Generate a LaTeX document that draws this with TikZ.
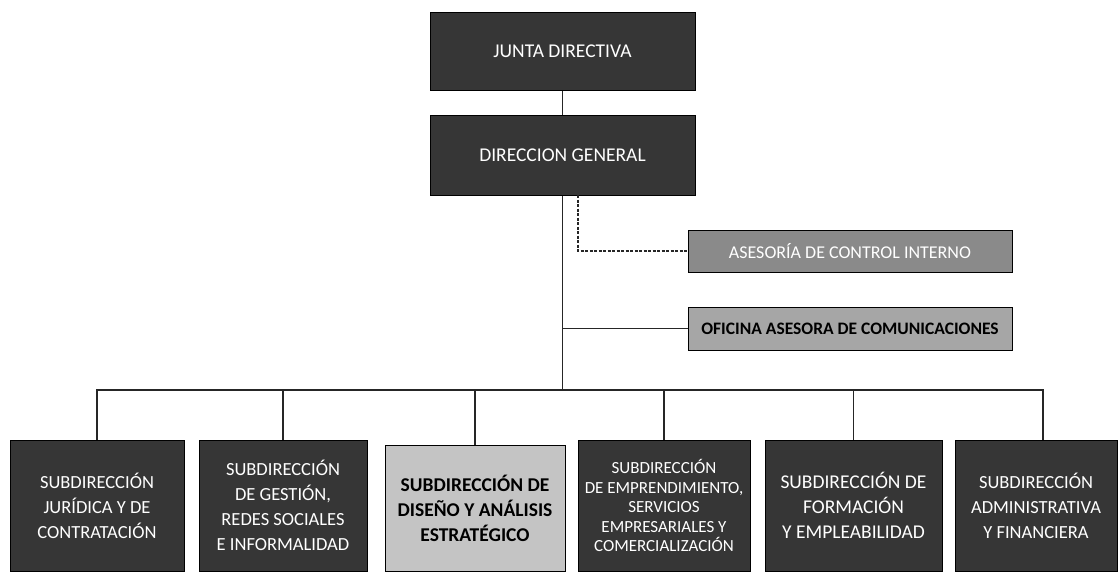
\documentclass[tikz,border=0pt]{standalone}
\usepackage{fontspec}
\setmainfont{Carlito}
\definecolor{darkbox}{HTML}{363636}
\definecolor{midbox}{HTML}{8A8A8A}
\definecolor{litebox}{HTML}{A6A6A6}
\definecolor{palebox}{HTML}{C4C4C4}
\begin{document}
\begin{tikzpicture}[x=1pt,y=-1pt,
  box/.style={draw=black,line width=1pt,inner sep=2pt,align=center,
    font=\fontsize{18.5}{25}\selectfont},
  darkb/.style={box,fill=darkbox,text=white},
  link/.style={draw=black!85,line width=1.1pt},
  staff/.style={link,dashed,dash pattern=on 3pt off 1.5pt}]
\useasboundingbox (0,0) rectangle (1119,571);
\node[darkb,font=\fontsize{19.5}{25}\selectfont,minimum width=265pt,minimum height=78pt] (JD) at (562.5,51) {JUNTA DIRECTIVA};
\node[darkb,font=\fontsize{19.5}{25}\selectfont,minimum width=265pt,minimum height=80pt] (DG) at (562.5,155) {DIRECCION GENERAL};
\node[box,fill=midbox,text=white,font=\fontsize{18}{25}\selectfont,minimum width=324pt,minimum height=42pt] (ACI) at (850,251) {ASESORÍA DE CONTROL INTERNO};
\node[box,fill=litebox,text=black,font=\fontsize{17.5}{25}\selectfont\bfseries,minimum width=324pt,minimum height=43pt] (OAC) at (850,328.5) {OFICINA ASESORA DE COMUNICACIONES};
\node[darkb,minimum width=174pt,minimum height=131pt] (B1) at (97,505.5) {SUBDIRECCIÓN\\JURÍDICA Y DE\\CONTRATACIÓN};
\node[darkb,minimum width=168pt,minimum height=131pt] (B2) at (283,505.5) {SUBDIRECCIÓN\\DE GESTIÓN,\\REDES SOCIALES\\E INFORMALIDAD};
\node[box,fill=palebox,text=black,font=\fontsize{19.5}{25}\selectfont\bfseries,minimum width=180pt,minimum height=126pt] (B3) at (475,508) {SUBDIRECCIÓN DE\\DISEÑO Y ANÁLISIS\\ESTRATÉGICO};
\node[darkb,font=\fontsize{17}{19.5}\selectfont,minimum width=172pt,minimum height=131pt] (B4) at (664,505.5) {SUBDIRECCIÓN\\DE EMPRENDIMIENTO,\\SERVICIOS\\EMPRESARIALES Y\\COMERCIALIZACIÓN};
\node[darkb,font=\fontsize{19.5}{25}\selectfont,minimum width=177pt,minimum height=131pt] (B5) at (853.5,505.5) {SUBDIRECCIÓN DE\\FORMACIÓN\\Y EMPLEABILIDAD};
\node[darkb,minimum width=162pt,minimum height=131pt] (B6) at (1036,505.5) {SUBDIRECCIÓN\\ADMINISTRATIVA\\Y FINANCIERA};
\coordinate (bus) at (562.5,390);
\coordinate (tap) at (578,195);
\draw[link] (JD) -- (DG);
\draw[link] (DG.south) -- (bus);
\draw[staff] (tap) |- (ACI.west);
\draw[link] (DG.south |- OAC.west) -- (OAC.west);
\draw[link] (B1.north) -- (B1.north |- bus) -- ([xshift=7pt]B6.north |- bus) -- ([xshift=7pt]B6.north);
\foreach \b in {B2,B3,B4,B5} \draw[link] (\b.north) -- (\b.north |- bus);
\end{tikzpicture}
\end{document}
